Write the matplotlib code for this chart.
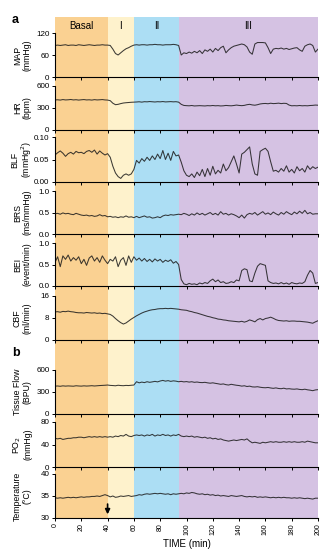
import numpy as np
import matplotlib
matplotlib.use("Agg")
import matplotlib.pyplot as plt

plt.rcParams['font.family'] = ['Liberation Sans', 'DejaVu Sans']

# time grid (min), one sample every 2 min
time = np.arange(0, 201, 2)

# experimental phases
phase_names = ["Basal", "I", "II", "III"]
phase_edges = [0, 40, 60, 94, 200]
phase_colors = ["#FAD192", "#FEF2CC", "#ACDEF4", "#D5C2E3"]
arrow_time = 40

map_vals = [86, 87, 86, 87, 88, 86, 87, 87, 86, 88, 87, 86, 87, 88, 87, 86, 87, 87, 88, 87, 87,
            86, 76, 64, 60, 66, 72, 77, 80, 84, 87,
            88, 87, 88, 88, 87, 88, 88, 89, 88, 88, 87, 88, 88, 88, 89, 88,
            86,
            60, 66, 64, 68, 65, 70, 66, 72, 64, 74, 70, 76, 68, 78, 72,
            80, 84, 66, 74, 80, 84, 86, 88, 90, 88,
            82, 68, 62, 90, 94, 94, 94, 93, 80, 64,
            76, 78, 77, 79, 76, 78, 75, 77, 79, 80,
            74, 70, 84, 88, 90, 86, 68, 76]

hr_vals = [410, 412, 408, 415, 410, 412, 416, 410, 413, 408, 412, 415, 410, 412, 408, 414, 410, 412, 415, 410, 408,
           400, 365, 345, 350, 360, 368, 372, 375, 378, 380,
           382, 385, 380, 386, 384, 388, 385, 382, 386, 384, 388, 383, 385, 387, 384, 386,
           380, 350, 335,
           332, 330, 334, 328, 330, 332, 330, 328, 332, 330,
           334, 330, 332, 328, 330, 335, 332, 330, 334, 340,
           335, 332, 336, 345, 350, 342, 338, 345, 355, 360,
           362, 358, 365, 360, 362, 366, 360, 364, 362, 340,
           330, 332, 330, 334, 330, 332, 330, 334, 336, 340,
           338]

blf_vals = [.060, .065, .069, .064, .057, .063, .066, .062, .068, .065, .066, .063, .068, .070, .066, .071, .062, .069, .064, .060, .063,
            .055, .035, .020, .012, .008, .015, .018, .015, .018, .028,
            .048, .042, .052, .046, .055, .048, .058, .050, .062, .052, .070, .050, .064, .048, .068, .058, .060,
            .044, .025, .015, .012, .018, .010, .022, .014, .028, .012,
            .030, .015, .035, .018, .026, .020, .040, .025, .032, .045,
            .058, .040, .020, .062, .066, .072, .078, .040, .018, .015,
            .068, .072, .075, .068, .045, .024, .026, .022, .030, .024,
            .036, .022, .028, .020, .034, .025, .030, .022, .036, .028,
            .034, .030, .033]

brs_vals = [.47, .48, .46, .49, .47, .48, .46, .45, .48, .46,
            .44, .43, .44, .42, .43, .41, .42, .45, .42, .43,
            .40, .41, .39, .40, .38, .40, .39, .42, .39, .40,
            .38, .41, .38, .40, .42, .39, .40, .37, .38, .40,
            .38, .42, .44, .43, .45, .44, .45, .46, .45, .48,
            .46, .43, .47, .44, .49, .45, .48, .44, .47, .50,
            .45, .48, .44, .52, .46, .48, .44, .47, .45, .42,
            .38, .44, .37, .45, .48, .46, .50, .44, .48, .52,
            .46, .49, .45, .51, .47, .44, .50, .46, .52, .48,
            .45, .51, .47, .53, .48, .55, .47, .50, .46, .47,
            .47]

bei_vals = [.55, .68, .45, .70, .62, .72, .58, .66, .60, .68,
            .52, .62, .48, .65, .70, .58, .66, .55, .70, .60,
            .52, .62, .58, .68, .45, .60, .66, .48, .70, .55,
            .68, .60, .65, .58, .64, .57, .62, .56, .63, .58,
            .62, .55, .60, .57, .61, .53, .57, .50, .15, .05,
            .03, .06, .04, .05, .03, .07, .05, .08, .06, .12,
            .16, .10, .14, .08, .10, .06, .07, .10, .08, .14,
            .12, .36, .40, .38, .12, .10, .30, .46, .52, .50,
            .48, .12, .08, .06, .07, .05, .08, .05, .07, .04,
            .08, .06, .05, .07, .06, .10, .25, .36, .30, .06,
            .08]

cbf_vals = [10.2, 10.3, 10.1, 10.4, 10.3, 10.5, 10.3, 10.2, 10.0, 9.9,
            9.9, 9.8, 10.0, 9.9, 9.8, 9.9, 9.7, 9.8, 9.6, 9.7,
            9.5, 9.3, 8.7, 7.8, 7.0, 6.3, 5.8, 6.2, 6.9, 7.6,
            8.2, 8.8, 9.3, 9.8, 10.2, 10.5, 10.8, 11.0, 11.1, 11.3,
            11.4, 11.4, 11.5, 11.4, 11.5, 11.4, 11.3, 11.2, 11.0, 10.9,
            10.8, 10.5, 10.3, 10.0, 9.8, 9.5, 9.2, 8.9, 8.6, 8.4,
            8.1, 7.9, 7.6, 7.5, 7.3, 7.2, 7.0, 6.9, 6.8, 6.7,
            6.6, 6.8, 6.5, 6.8, 7.3, 7.0, 6.6, 7.4, 7.8, 7.3,
            7.8, 8.0, 8.3, 7.9, 7.4, 7.1, 7.0, 6.9, 7.0, 6.8,
            6.9, 6.9, 6.8, 6.8, 6.7, 6.6, 6.5, 6.3, 6.1, 6.6,
            7.0]

tissue_vals = [380, 382, 378, 384, 380, 383, 381, 379, 385, 382,
               380, 384, 381, 383, 386, 382, 385, 388, 390, 392,
               395, 390, 388, 385, 392, 388, 386, 390, 388, 392,
               395, 440, 425, 435, 428, 440, 432, 438, 445, 438,
               450, 458, 448, 455, 445, 452, 448, 440, 445, 438,
               442, 435, 440, 432, 436, 430, 428, 432, 425, 420,
               425, 418, 412, 405, 410, 400, 395, 405, 398, 392,
               388, 380, 385, 375, 380, 370, 368, 372, 365, 360,
               358, 362, 355, 350, 356, 348, 345, 352, 342, 345,
               340, 338, 342, 335, 332, 338, 330, 325, 318, 328,
               332]

po2_vals = [51, 50, 51, 49, 50, 51, 51, 52, 52, 53,
            53, 52, 53, 54, 53, 54, 53, 54, 53, 54,
            53, 54, 53, 55, 54, 56, 55, 58, 55, 54,
            56, 57, 56, 57, 55, 57, 56, 58, 55, 57,
            56, 58, 56, 57, 55, 57, 56, 58, 55, 54,
            55, 54, 55, 53, 54, 53, 52, 53, 51, 52,
            50, 51, 49, 50, 48, 47, 46, 47, 48, 47,
            48, 49, 48, 50, 46, 43, 44, 43, 42, 44,
            43, 44, 45, 44, 45, 44, 44, 45, 44, 45,
            44, 45, 44, 44, 45, 44, 46, 45, 44, 43,
            43]

temp_vals = [34.6, 34.5, 34.6, 34.5, 34.6, 34.7, 34.6, 34.7, 34.6, 34.7,
             34.8, 34.7, 34.8, 34.8, 34.9, 34.9, 35.0, 34.9, 35.1, 35.3,
             35.1, 34.8, 35.0, 34.7, 34.8, 35.0, 34.9, 35.0, 35.1, 34.9,
             35.0, 35.1, 35.3, 35.2, 35.4, 35.5, 35.4, 35.5, 35.6, 35.5,
             35.6, 35.5, 35.4, 35.5, 35.3, 35.5, 35.4, 35.5, 35.6, 35.5,
             35.7, 35.6, 35.8, 35.7, 35.5, 35.4, 35.5, 35.3, 35.4, 35.2,
             35.3, 35.1, 35.2, 35.0, 35.1, 35.0, 34.9, 35.1, 35.0, 34.9,
             35.0, 35.1, 34.9, 34.8, 34.9, 34.8, 34.9, 34.7, 34.8, 34.7,
             34.8, 34.7, 34.6, 34.7, 34.6, 34.7, 34.6, 34.7, 34.6, 34.6,
             34.5, 34.6, 34.5, 34.6, 34.5, 34.4, 34.5, 34.4, 34.3, 34.5,
             34.5]

# (values, y-limits, y-ticks, tick labels, y-label, top px, bottom px)
panels = [
    (map_vals, (0, 120), [0, 60, 120], ["0", "60", "120"], "MAP\n(mmHg)", 33, 77),
    (hr_vals, (0, 600), [0, 300, 600], ["0", "300", "600"], "HR\n(bpm)", 86, 130),
    (blf_vals, (0, 0.10), [0, 0.05, 0.10], ["0.00", "0.05", "0.10"], "BLF\n(mmHg$^2$)", 137, 182),
    (brs_vals, (0, 1.0), [0, 0.5, 1.0], ["0.0", "0.5", "1.0"], "BRS\n(ms/mmHg)", 191, 234),
    (bei_vals, (0, 1.0), [0, 0.5, 1.0], ["0.0", "0.5", "1.0"], "BEI\n(event/min)", 243, 286),
    (cbf_vals, (0, 16), [0, 8, 16], ["0", "8", "16"], "CBF\n(ml/min)", 296, 340),
    (tissue_vals, (0, 600), [0, 300, 600], ["0", "300", "600"], "Tissue Flow\n(BPU)", 370, 414),
    (po2_vals, (0, 80), [0, 40, 80], ["0", "40", "80"], "PO$_2$\n(mmHg)", 422, 467),
    (temp_vals, (30, 40), [30, 35, 40], ["30", "35", "40"], "Temperature\n(\u00b0C)", 474, 518),
]

W, H = 329, 550
L, R = 55, 318
fig = plt.figure(figsize=(W / 100, H / 100), dpi=100)


def rect(top, bot):
    return [L / W, 1 - bot / H, (R - L) / W, (bot - top) / H]


# coloured phase bands behind all panels
bg = fig.add_axes(rect(17, 518))
bg.set_xlim(0, 200)
bg.set_ylim(0, 1)
bg.axis("off")
for i, name in enumerate(phase_names):
    bg.axvspan(phase_edges[i], phase_edges[i + 1], color=phase_colors[i], lw=0, zorder=0)
    bg.text((phase_edges[i] + phase_edges[i + 1]) / 2, 0.982, name,
            ha="center", va="center", fontsize=7)

axes = []
for vals, ylim, yt, ytl, lab, top, bot in panels:
    ax = fig.add_axes(rect(top, bot))
    ax.set_facecolor("none")
    ax.plot(time, vals, color="#1a1a1a", lw=0.75, alpha=0.85)
    ax.set_xlim(0, 200)
    ax.set_ylim(*ylim)
    ax.set_yticks(yt)
    ax.set_yticklabels(ytl)
    ax.set_xticks(np.arange(0, 201, 20))
    ax.tick_params(axis="both", direction="out", length=2.5, width=0.7, labelsize=5.8, pad=1.5)
    ax.tick_params(axis="x", labelbottom=False)
    for s in ["top", "right"]:
        ax.spines[s].set_visible(False)
    for s in ["left", "bottom"]:
        ax.spines[s].set_linewidth(0.8)
    ax.spines["left"].set_bounds(*ylim)
    fig.text(22 / W, 1 - (top + bot) / 2 / H, lab, rotation=90, ha="center", va="center",
             multialignment="center", fontsize=6.3, linespacing=1.05)
    axes.append(ax)

last = axes[-1]
last.tick_params(axis="x", labelbottom=True, labelsize=5, rotation=90)
last.set_xlabel("TIME (min)", fontsize=7, labelpad=3)
last.annotate("", xy=(arrow_time, 30.2), xytext=(arrow_time, 33.8),
              arrowprops=dict(arrowstyle="-|>", color="black", lw=1.2, mutation_scale=7))

fig.text(12 / W, 1 - 20 / H, "a", fontsize=9, fontweight="bold", ha="left", va="center")
fig.text(12 / W, 1 - 353 / H, "b", fontsize=9, fontweight="bold", ha="left", va="center")

fig.savefig("out.png", dpi=100)
